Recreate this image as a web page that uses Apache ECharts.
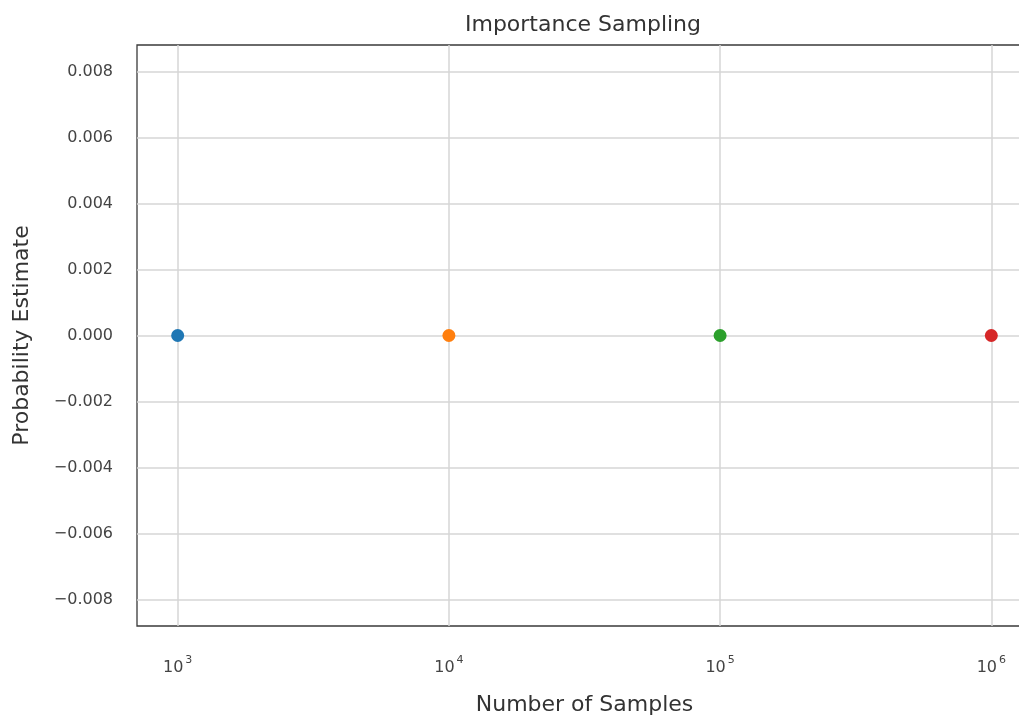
<!DOCTYPE html>
<html>
<head>
<meta charset="utf-8">
<script src="https://cdn.jsdelivr.net/npm/echarts@6/dist/echarts.min.js"></script>
<style>
html,body{margin:0;padding:0;background:#fff;}
#chart{width:1019px;height:721px;}
</style>
</head>
<body>
<div id="chart"></div>
<script>
// ---- data ----
const sampleCounts = [1000, 10000, 100000, 1000000];
const probabilityEstimates = [0.0, 0.0, 0.0, 0.0];
const xTickValues = [1000, 10000, 100000, 1000000];
const yTickValues = [-0.008, -0.006, -0.004, -0.002, 0.0, 0.002, 0.004, 0.006, 0.008];
const titleText = 'Importance Sampling';
const xAxisTitle = 'Number of Samples';
const yAxisTitle = 'Probability Estimate';

// ---- styles ----
const pointColors = ['#1f77b4', '#ff7f0e', '#2ca02c', '#d62728'];
const FONT = 'DejaVu Sans';

const chart = echarts.init(document.getElementById('chart'), null, {renderer: 'canvas'});

const option = {
  animation: false,
  backgroundColor: '#ffffff',
  title: {
    text: titleText,
    left: 578,
    top: 9,
    textAlign: 'center',
    textStyle: {fontFamily: FONT, fontSize: 22, fontWeight: 'normal', color: '#333333'}
  },
  grid: {
    left: 137, top: 45, width: 895, bottom: 95,
    outerBoundsMode: 'none',
    show: true, borderColor: '#3a3a3a', borderWidth: 1.3, backgroundColor: 'transparent',
    containLabel: false
  },
  xAxis: {
    type: 'log',
    logBase: 10,
    min: Math.pow(10, 2.85),
    max: Math.pow(10, 6.15),
    name: xAxisTitle,
    nameLocation: 'middle',
    nameGap: 68,
    nameTextStyle: {fontFamily: FONT, fontSize: 22, color: '#333333'},
    axisLine: {show: false},
    axisTick: {show: false, customValues: xTickValues},
    splitLine: {show: true, lineStyle: {color: '#d6d6d6', width: 1.5}},
    axisLabel: {
      customValues: xTickValues,
      margin: 29,
      fontFamily: FONT, fontSize: 16, color: '#444444',
      formatter: function (v) { return '10{sup|' + Math.round(Math.log10(v)) + '}'; },
      rich: {
        sup: {fontFamily: FONT, fontSize: 11, color: '#444444', padding: [0, 0, 14, 2]}
      }
    }
  },
  yAxis: {
    type: 'value',
    min: -0.0088,
    max: 0.0088,
    name: yAxisTitle,
    nameLocation: 'middle',
    nameGap: 104,
    nameTextStyle: {fontFamily: FONT, fontSize: 22, color: '#333333'},
    axisLine: {show: false},
    axisTick: {show: false, customValues: yTickValues},
    splitLine: {show: true, lineStyle: {color: '#d6d6d6', width: 1.5}},
    axisLabel: {
      customValues: yTickValues,
      margin: 24,
      fontFamily: FONT, fontSize: 16, color: '#444444',
      formatter: function (v) { return v.toFixed(3).replace('-', '\u2212'); }
    }
  },
  series: [{
    type: 'scatter',
    symbol: 'circle',
    symbolSize: 13,
    data: sampleCounts.map(function (n, i) { return [n, probabilityEstimates[i]]; }),
    itemStyle: {
      opacity: 1,
      color: function (p) { return pointColors[p.dataIndex % pointColors.length]; }
    },
    z: 5
  }]
};

chart.setOption(option);
</script>
</body>
</html>
